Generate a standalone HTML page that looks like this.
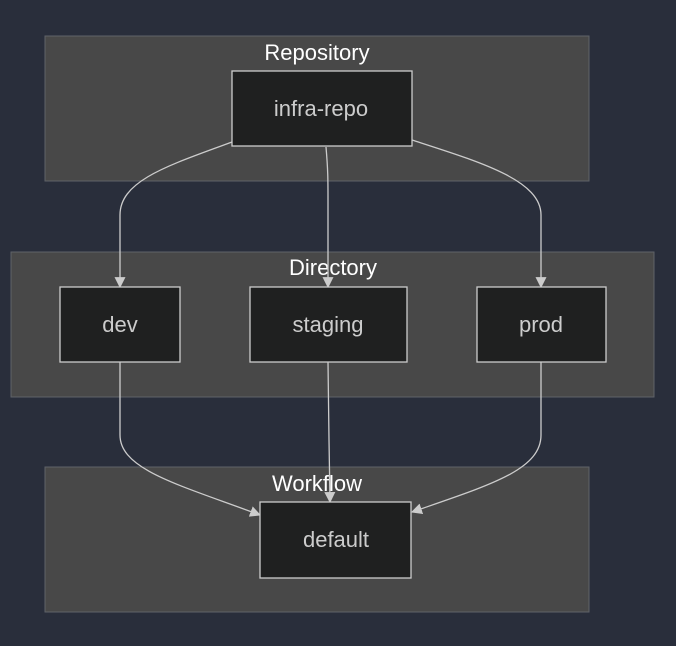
<!DOCTYPE html>
<html><head><meta charset="utf-8"><style>
html,body{margin:0;padding:0;background:#292e3b;width:676px;height:646px;overflow:hidden}
svg{display:block}
text{font-family:"Liberation Sans",Arial,sans-serif}
</style></head><body>
<svg width="676" height="646" viewBox="0 0 676 646">
<defs><marker id="a" viewBox="0 0 10 10" refX="9" refY="5" markerWidth="11" markerHeight="11" markerUnits="userSpaceOnUse" orient="auto"><path d="M0,0L10,5L0,10z" fill="#cccccc"/></marker></defs>
<rect width="676" height="646" fill="#292e3b"/>
<g fill="#484848" stroke="#5f6368" stroke-width="1">
<rect x="45" y="36" width="544" height="145"/>
<rect x="11" y="252" width="643" height="145"/>
<rect x="45" y="467" width="544" height="145"/>
</g>
<g fill="#ffffff" font-size="22" text-anchor="middle">
<text x="317" y="60">Repository</text>
<text x="333" y="275">Directory</text>
<text x="317" y="491">Workflow</text>
</g>
<g fill="none" stroke="#cccccc" stroke-width="1.3" marker-end="url(#a)">
<path d="M232,142 C170,165 120,180 120,215 L120,287"/>
<path d="M326,147 C328,170 328,180 328,200 L328,287"/>
<path d="M412,140 C480,162 541,180 541,215 L541,287"/>
<path d="M120,362 L120,435 C120,470 180,485 260,515"/>
<path d="M328,362 L329,440 L330,502"/>
<path d="M541,362 L541,435 C541,470 490,485 412,512"/>
</g>
<g fill="#1f2020" stroke="#cccccc" stroke-width="1.3">
<rect x="232" y="71" width="180" height="75"/>
<rect x="60" y="287" width="120" height="75"/>
<rect x="250" y="287" width="157" height="75"/>
<rect x="477" y="287" width="129" height="75"/>
<rect x="260" y="502" width="151" height="76"/>
</g>
<g fill="#cccccc" font-size="22" text-anchor="middle">
<text x="321" y="116">infra-repo</text>
<text x="120" y="332">dev</text>
<text x="328" y="332">staging</text>
<text x="541" y="332">prod</text>
<text x="336" y="547">default</text>
</g>
</svg>
</body></html>
